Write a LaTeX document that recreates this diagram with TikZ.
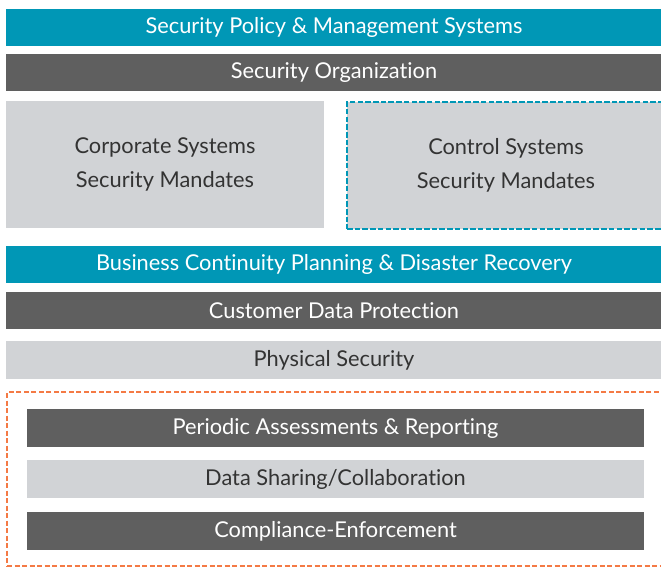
\documentclass[tikz,border=0pt]{standalone}
\usepackage{fontspec}
\setmainfont[Ligatures={NoCommon}]{Lato}
\definecolor{tealbar}{HTML}{0097B6}
\definecolor{darkbar}{HTML}{5F5F5F}
\definecolor{lightbar}{HTML}{D1D3D6}
\definecolor{darktext}{HTML}{333333}
\definecolor{orangedash}{HTML}{F47A45}
\tikzset{
  bar/.style={inner sep=0pt, anchor=center, font=\fontsize{21.8}{26}\selectfont},
  tealbox/.style={bar, fill=tealbar, text=white},
  darkbox/.style={bar, fill=darkbar, text=white},
  lightbox/.style={bar, fill=lightbar, text=darktext},
  twoline/.style={align=center, font=\fontsize{21.8}{34}\selectfont},
  tealdash/.style={draw=tealbar, line width=2.6pt, dash pattern=on 5.5pt off 2.2pt},
  orangedashed/.style={draw=orangedash, line width=2.4pt, dash pattern=on 5pt off 2.5pt}
}
\begin{document}
\begin{tikzpicture}[x=1pt,y=-1pt]
\useasboundingbox (0,0) rectangle (661,567);
\node[tealbox, minimum width=656pt, minimum height=37pt] (b1) at (334,27.5) {Security Policy \& Management Systems};
\node[darkbox, minimum width=656pt, minimum height=37pt] (b2) at (334,73) {Security Organization};
\node[lightbox, twoline, minimum width=318pt, minimum height=127pt] (corp) at (165,164.5) {Corporate Systems\\Security Mandates};
\node[lightbox, twoline, tealdash, minimum width=318pt, minimum height=127pt] (ctrl) at (506,165.5) {Control Systems\\Security Mandates};
\node[tealbox, minimum width=656pt, minimum height=37pt] (bcp) at (334,264.5) {Business Continuity Planning \& Disaster Recovery};
\node[darkbox, minimum width=656pt, minimum height=37pt] (cdp) at (334,310.5) {Customer Data Protection};
\node[lightbox, minimum width=656pt, minimum height=38pt] (phys) at (334,360) {Physical Security};
\node[minimum width=670pt, minimum height=174pt, inner sep=0pt, orangedashed] (grp) at (342,479) {};
\node[darkbox, minimum width=617pt, minimum height=38pt] (per) at (335.5,428) {Periodic Assessments \& Reporting};
\node[lightbox, minimum width=617pt, minimum height=38pt] (ds) at (335.5,479) {Data Sharing/Collaboration};
\node[darkbox, minimum width=617pt, minimum height=38pt] (comp) at (335.5,531) {Compliance-Enforcement};
\end{tikzpicture}
\end{document}
